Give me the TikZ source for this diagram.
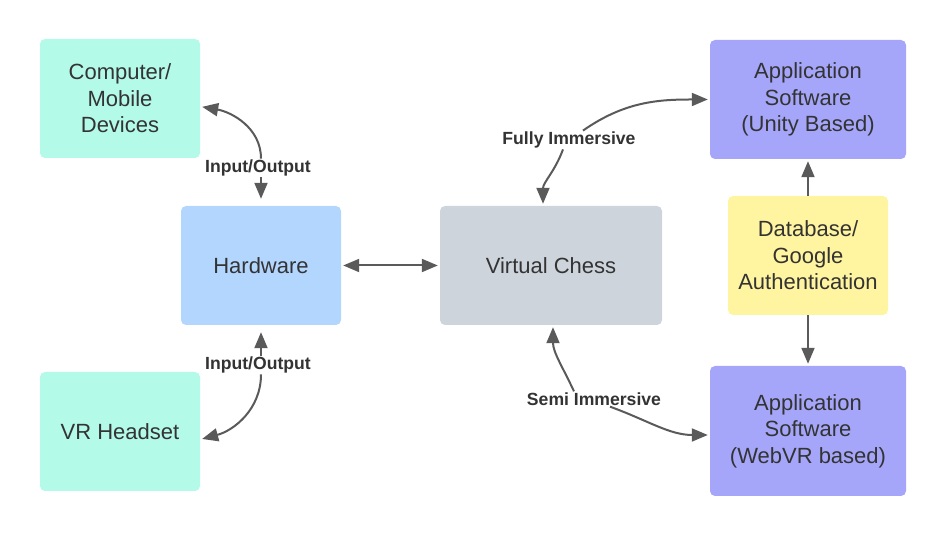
\documentclass[tikz,border=0pt]{standalone}
\usepackage{fontspec}
\setmainfont{Liberation Sans}
\usetikzlibrary{arrows.meta}

\definecolor{mint}{RGB}{180,250,232}
\definecolor{hwblue}{RGB}{179,214,255}
\definecolor{chessgray}{RGB}{206,212,220}
\definecolor{appviolet}{RGB}{165,166,250}
\definecolor{dbyellow}{RGB}{255,245,160}
\definecolor{inkgray}{RGB}{51,51,51}
\definecolor{arrowgray}{RGB}{90,90,90}

\begin{document}
\begin{tikzpicture}[x=1pt, y=1pt,
	box/.style={rounded corners=5pt, align=center, text=inkgray, inner sep=0pt,
		font=\fontsize{22}{26.5}\selectfont, minimum width=160pt, minimum height=119pt},
	lbl/.style={font=\bfseries\fontsize{17.6}{20}\selectfont, text=inkgray, inner sep=1pt},
	arr/.style={draw=arrowgray, line width=2pt, -{Triangle[length=16pt, width=13pt]}, shorten >=2pt}]
	\useasboundingbox (0, 0) rectangle (946, 537);
	
	\node[box, fill=mint] (comp) at (120, 438.5) {Computer/\\Mobile\\Devices};
	\node[box, fill=hwblue] (hw) at (261, 271.5) {Hardware};
	\node[box, fill=mint] (vr) at (120, 105.5) {VR Headset};
	\node[box, fill=chessgray, minimum width=222pt] (chess) at (551, 271.5) {Virtual Chess};
	\node[box, fill=appviolet, minimum width=196pt] (unity) at (808, 437.5) {Application\\Software\\(Unity Based)};
	\node[box, fill=dbyellow] (db) at (808, 281.5) {Database/\\Google\\Authentication};
	\node[box, fill=appviolet, minimum width=196pt, minimum height=130pt] (webvr) at (808, 106) {Application\\Software\\(WebVR based)};
	
	\node[lbl] (io-0) at (258, 369) {Input/Output};
	\node[lbl] (io-1) at (258, 172) {Input/Output};
	\node[lbl] (full) at (569, 397) {Fully Immersive};
	\node[lbl] (semi) at (594, 138) {Semi Immersive};
	
	\draw[arr] ([xshift=3pt]io-0.north) to[out=90, in=-10] ([yshift=-8pt]comp.east);
	\draw[arr] ([xshift=3pt]io-0.south) -- ([xshift=3pt, yshift=5pt]io-0.south |- hw.north);
	\draw[arr] ([xshift=3pt]io-1.north) -- ([xshift=3pt, yshift=-5pt]io-1.north |- hw.south);
	\draw[arr] ([xshift=3pt]io-1.south) to[out=-90, in=15] ([yshift=-8pt]vr.east);
	\draw[arr, {Triangle[length=16pt, width=13pt]}-{Triangle[length=16pt, width=13pt]}, shorten <=2pt] (hw.east) -- (chess.west);
	\draw[arr] ([xshift=-6pt]full.south) to[out=-110, in=90] ([xshift=-8pt]chess.north);
	\draw[arr] ([xshift=14pt]full.north) to[out=35, in=180] (unity.west);
	\draw[arr] ([xshift=-20pt]semi.north) to[out=115, in=-90] ([xshift=2pt]chess.south);
	\draw[arr] ([xshift=16pt]semi.south) to[out=-20, in=180] ([yshift=-4pt]webvr.west);
	\draw[arr] (db.north) -- (unity.south);
	\draw[arr] (db.south) -- (webvr.north);
\end{tikzpicture}
\end{document}
